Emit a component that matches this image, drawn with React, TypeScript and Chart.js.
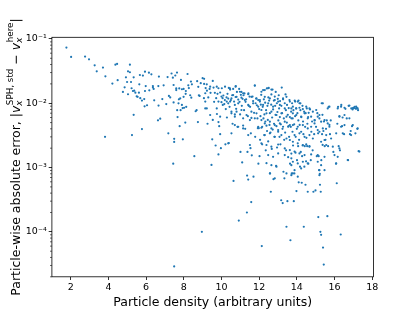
import { useEffect, useRef } from "react";
import { Chart, registerables } from "chart.js";

Chart.register(...registerables);

// ---- axis ticks ----
const xTickValues = [2, 4, 6, 8, 10, 12, 14, 16, 18];
const yMajorTicks = [1e-4, 1e-3, 1e-2, 1e-1];
const yMinorMantissas = [2, 3, 4, 5, 6, 7, 8, 9];
const yMinorDecades = [1e-5, 1e-4, 1e-3, 1e-2];

const xLabel = "Particle density (arbitrary units)";

// ---- data: [particle density, absolute error] ----
const lowDensityPoints: [number, number][] = [
  [1.77, 7.33e-2], [2.02, 5.25e-2], [2.76, 5.31e-2], [2.97, 4.82e-2], [3.27, 3.89e-2], [3.38, 3.14e-2],
  [3.71, 3.58e-2], [3.84, 2.62e-2], [3.82, 3.0e-3], [4.21, 2.02e-2], [4.37, 3.98e-2], [4.46, 4.08e-2],
  [4.49, 2.28e-2], [4.77, 1.5e-2], [4.86, 1.77e-2], [4.93, 2.53e-2], [4.99, 2.14e-2], [5.04, 3.14e-2],
  [5.14, 3.98e-2], [5.14, 3.03e-2], [5.04, 1.38e-2], [5.2, 2.14e-2], [5.23, 1.71e-2], [5.3, 1.55e-2],
  [5.34, 2.53e-2], [5.37, 1.57e-2], [5.43, 1.46e-2], [5.5, 1.28e-2], [5.55, 1.26e-2], [5.62, 1.46e-2],
  [5.64, 1.97e-2], [5.67, 2.75e-2], [5.69, 1.2e-2], [5.78, 1.1e-2], [5.83, 2.69e-2], [5.9, 1.16e-2],
  [5.94, 3.1e-2], [5.98, 1.85e-2], [5.94, 1.55e-2], [5.92, 8.95e-3], [6.05, 9.3e-3], [6.15, 2.99e-2],
  [6.28, 2.82e-2], [6.17, 1.59e-2], [6.36, 1.85e-2], [6.4, 1.67e-2], [6.36, 1.77e-2], [6.43, 1.11e-2],
  [6.65, 1.85e-2], [6.68, 2.6e-2], [6.66, 9.2e-3], [6.63, 5.42e-3], [6.75, 5.75e-3], [5.34, 6.6e-3],
  [5.25, 3.2e-3], [5.78, 3.97e-3],
];

const midDensityPoints: [number, number][] = [
  [6.86, 1.16e-2], [6.93, 1.9e-2], [7.07, 9.7e-3], [7.14, 2.55e-2], [7.18, 3.4e-3], [7.21, 1.3e-2],
  [7.28, 1.23e-2], [7.35, 2.9e-2], [7.42, 2.5e-2], [7.44, 1.15e-3], [7.49, 2.8e-3], [7.49, 2.5e-3],
  [7.49, 2.9e-5], [7.55, 2.7e-2], [7.6, 1.7e-2], [7.6, 1.6e-2], [7.64, 3.0e-2], [7.65, 7.8e-3],
  [7.67, 6.1e-3], [7.74, 1.15e-2], [7.76, 1.7e-2], [7.78, 4.4e-3], [7.83, 7.8e-3], [7.85, 2.3e-2],
  [7.9, 1.65e-2], [7.94, 8.4e-3], [7.95, 2.75e-3], [8.02, 8.5e-3], [8.08, 5.0e-3], [8.1, 1.4e-2],
  [8.11, 1.55e-2], [8.13, 8.8e-3], [8.2, 2.85e-2], [8.24, 1.9e-2], [8.27, 1.72e-2], [8.34, 1.33e-2],
  [8.4, 1.22e-2], [8.56, 1.5e-3], [8.63, 7.5e-3], [8.68, 7.8e-3], [8.71, 2.2e-2], [8.77, 1.8e-2],
  [8.8, 1.33e-2], [8.84, 1.3e-2], [8.75, 5.1e-3], [8.9, 2.05e-2], [8.96, 1.0e-4], [9.0, 2.45e-2],
  [9.08, 2.4e-2], [9.08, 2.0e-2], [9.07, 1.2e-2], [9.14, 1.06e-2], [9.16, 1.72e-2], [9.23, 1.57e-2],
  [9.26, 4.8e-3], [9.3, 1.23e-2], [9.37, 1.67e-2], [9.42, 1.45e-2], [9.47, 1.1e-3], [9.51, 2.75e-3],
  [9.54, 5.5e-3], [9.58, 1.75e-2], [9.61, 1.05e-2], [9.65, 1.45e-2], [9.69, 2.2e-3], [9.72, 1.2e-2],
  [9.76, 6.8e-3], [9.79, 1.4e-2], [9.84, 1.6e-3], [9.84, 5.1e-3], [9.88, 4.4e-3], [9.93, 1.47e-2],
  [9.93, 3.3e-3], [9.97, 2.0e-3], [10.0, 1.27e-2], [10.0, 1.04e-2], [10.06, 1.2e-2], [10.07, 9.4e-3],
  [10.1, 1.32e-2], [10.15, 9.7e-3], [10.18, 1.12e-2], [10.21, 2.3e-3], [10.23, 8.1e-3], [10.27, 1.23e-2],
  [10.29, 6.0e-3], [10.32, 1.4e-2],
  [8.38, 2.17e-2], [9.54, 2.22e-2], [7.46, 1.92e-2], [7.99, 1.67e-2], [8.43, 1.97e-2], [9.22, 1.97e-2],
  [9.4, 1.81e-2], [9.75, 1.81e-2], [9.84, 1.71e-2], [10.02, 1.71e-2], [10.19, 1.81e-2], [7.81, 1.19e-2],
  [7.99, 1.26e-2], [9.14, 1.43e-2], [7.46, 1.03e-2], [7.72, 9.96e-3], [7.9, 9.4e-3], [9.84, 1.06e-2],
  [10.28, 1.06e-2], [9.14, 8.3e-3], [9.22, 8.3e-3], [9.75, 8.3e-3], [9.4, 6.56e-3], [9.93, 6.18e-3],
  [10.46, 1.06e-2],
];

const highDensityPoints: [number, number][] = [
  [10.36, 1.18e-2], [10.39, 2.4e-3], [10.39, 1.73e-2], [10.43, 8.8e-3], [10.46, 1.63e-2], [10.5, 1.12e-2],
  [10.53, 7.4e-3], [10.57, 1.33e-2], [10.59, 4.8e-3], [10.62, 1.67e-2], [10.64, 6.2e-4], [10.67, 1.06e-2],
  [10.71, 6.7e-3], [10.75, 1.25e-2], [10.76, 1.85e-2], [10.78, 8.2e-3], [10.82, 1.5e-2], [10.85, 4.3e-3],
  [10.89, 1.14e-2], [10.92, 1.5e-4], [10.94, 1.67e-2], [10.96, 1.05e-2], [10.99, 6.7e-3], [11.01, 1.75e-3],
  [11.03, 1.35e-2], [11.06, 1.5e-2], [11.08, 9.1e-3], [11.1, 1.2e-3], [11.12, 1.17e-2], [11.15, 4.5e-3],
  [11.17, 1.33e-2], [11.2, 7.8e-3], [11.22, 1.42e-2], [11.26, 4.0e-3], [11.28, 1.05e-2], [11.31, 1.15e-2],
  [11.35, 2.0e-4], [11.36, 7.5e-4], [11.38, 1.75e-3], [11.4, 6.3e-3], [11.42, 6.5e-4], [11.43, 1.42e-2],
  [11.45, 9.1e-3], [11.49, 1.27e-2], [11.52, 8.8e-3], [11.54, 2.0e-3], [11.56, 3.4e-3], [11.58, 2.9e-4],
  [11.59, 5.9e-3], [11.61, 1.55e-3], [11.65, 1.27e-2], [11.68, 1.08e-2], [11.7, 7.2e-4], [11.73, 7.1e-3],
  [11.77, 1.9e-2], [11.79, 3.0e-3], [11.81, 1.0e-2], [11.84, 1.18e-2], [11.88, 9.3e-3], [11.91, 5.8e-3],
  [11.93, 4.1e-3], [11.95, 1.12e-2], [11.96, 1.15e-3], [11.98, 4.1e-3], [12.0, 8.1e-3], [12.02, 1.5e-3],
  [12.04, 1.06e-2], [12.05, 2.7e-3], [12.07, 6.3e-3], [12.09, 9.5e-3], [12.11, 1.35e-2], [12.14, 6.0e-5],
  [12.16, 4.3e-3], [12.16, 2.3e-3], [12.19, 8.8e-3], [12.21, 1.6e-2], [12.23, 5.8e-3], [12.25, 1.15e-2],
  [12.27, 3.2e-3], [12.28, 6.7e-3], [12.3, 1.6e-2], [12.32, 1.02e-2], [12.33, 5.2e-3], [12.35, 1.85e-3],
  [12.37, 7.8e-3], [12.39, 1.17e-3], [12.41, 1.7e-2], [12.42, 3.7e-3], [12.44, 9.1e-3], [12.46, 5.5e-3],
  [12.48, 2.55e-3], [12.49, 1.23e-2], [12.51, 1.73e-2], [12.53, 1.1e-2], [12.55, 4.6e-3], [12.57, 7.0e-3],
  [12.58, 8.1e-4], [12.6, 3.5e-3], [12.62, 4.2e-4], [12.64, 9.5e-3], [12.65, 1.37e-2], [12.67, 1.95e-3],
  [12.69, 6.0e-3], [12.71, 1.63e-2], [12.72, 3.9e-3], [12.74, 8.0e-3], [12.76, 6.6e-4], [12.78, 1.1e-2],
  [12.79, 4.8e-3], [12.81, 3.0e-3], [12.83, 1.27e-2], [12.85, 9.1e-3], [12.87, 6.6e-3], [12.88, 1.5e-2],
  [12.9, 1.06e-3], [12.92, 4.4e-3], [12.94, 1.0e-2], [12.95, 2.05e-3], [12.97, 7.3e-3], [12.99, 1.17e-2],
  [13.01, 3.6e-3], [13.02, 5.4e-3], [13.04, 1.33e-2], [13.06, 8.3e-3], [13.08, 3.0e-3], [13.1, 6.1e-3],
  [13.11, 1.08e-2], [13.13, 2.3e-3], [13.15, 4.7e-3], [13.17, 3.1e-4], [13.18, 9.1e-3], [13.2, 1.75e-2],
  [13.22, 7.0e-3], [13.24, 4.0e-3], [13.25, 2.8e-4], [13.27, 1.15e-2], [13.29, 8.6e-4], [13.31, 5.8e-3],
  [13.33, 2.7e-3], [13.34, 6.8e-4], [13.36, 1.0e-2], [13.38, 3.5e-3], [13.4, 1.37e-2], [13.42, 7.8e-3],
  [13.43, 1.85e-3], [13.45, 1.2e-4], [13.47, 5.0e-3], [13.48, 9.4e-3], [13.5, 3.0e-4], [13.52, 6.6e-3],
  [13.54, 1.45e-3], [13.56, 4.4e-3], [13.57, 8.4e-3], [13.59, 3.0e-3], [13.61, 1.12e-2], [13.63, 6.1e-3],
  [13.64, 1.15e-3], [13.66, 7.4e-5], [13.68, 4.3e-3], [13.7, 7.4e-3], [13.71, 1.65e-3], [13.73, 8.1e-4],
  [13.75, 1.0e-2], [13.77, 3.6e-3], [13.78, 5.8e-3], [13.8, 2.2e-3], [13.82, 7.8e-3], [13.84, 3.0e-4],
  [13.86, 4.7e-3], [13.87, 8.1e-4], [13.89, 1.1e-2], [13.91, 6.3e-3], [13.93, 1.7e-3], [13.94, 3.0e-3],
  [13.96, 8.3e-3], [13.98, 4.3e-4], [14.0, 4.0e-3], [14.01, 1.3e-3], [14.03, 7.0e-3], [14.05, 1.06e-2],
  [14.07, 2.15e-3], [14.08, 5.4e-3], [14.1, 5.9e-4], [14.12, 2.7e-3], [14.14, 1.0e-2], [14.15, 4.6e-3],
  [14.17, 1.03e-3], [14.19, 7.8e-3], [14.21, 1.75e-3], [14.23, 3.6e-3], [14.24, 6.1e-3], [14.26, 5.8e-4],
  [14.28, 1.5e-3], [14.3, 9.1e-3], [14.31, 2.2e-3], [14.33, 5.2e-3], [14.35, 3.3e-3], [14.37, 1.2e-4],
  [14.39, 7.4e-3], [14.4, 1.03e-3], [14.42, 2.15e-3], [14.44, 4.3e-3], [14.46, 5.4e-4], [14.47, 7.0e-3],
  [14.49, 1.25e-3], [14.51, 2.9e-3], [14.53, 8.3e-3], [14.55, 2.15e-3], [14.56, 4.8e-3], [14.58, 4.2e-4],
  [14.6, 6.1e-3], [14.61, 1.15e-3], [14.63, 7.1e-3], [14.67, 2.15e-3], [14.7, 8.0e-3], [14.74, 1.3e-3],
  [14.77, 3.6e-3], [14.81, 5.2e-3], [14.84, 1.85e-3], [14.88, 4.2e-4], [14.92, 3.3e-3], [14.95, 5.4e-3],
  [14.99, 4.4e-4], [15.02, 4.3e-3], [15.06, 1.5e-3], [15.09, 7.0e-3], [15.13, 3.4e-3], [15.14, 1.7e-4],
  [15.16, 1.5e-3], [15.18, 9.1e-4], [15.2, 5.8e-3], [15.22, 8.0e-4], [15.23, 5.4e-4], [15.25, 1.0e-4],
  [15.27, 4.2e-4], [15.29, 9.0e-5], [15.3, 1.3e-3], [15.32, 1.0e-2], [15.34, 3.3e-3], [15.36, 6.6e-3],
  [15.37, 2.25e-3], [15.39, 5.7e-5], [15.41, 3.7e-3], [15.43, 3.1e-5], [15.44, 5.2e-3], [15.48, 2.15e-3],
  [15.52, 2.7e-3], [15.55, 4.0e-3], [15.59, 5.4e-3], [15.62, 1.75e-4], [15.66, 2.15e-3], [15.69, 8.8e-3],
  [15.73, 4.6e-3], [15.76, 3.3e-3], [15.8, 5.4e-3], [15.94, 1.75e-3], [16.08, 1.15e-3], [16.12, 5.7e-4],
  [16.15, 4.8e-3], [16.19, 8.8e-3], [16.22, 2.15e-3], [16.26, 6.3e-3], [16.29, 1.85e-3], [16.33, 9.1e-5],
  [16.36, 9.4e-3], [16.4, 4.4e-3], [16.43, 6.0e-3], [16.51, 3.3e-3], [16.58, 8.2e-3], [16.65, 5.8e-3],
  [16.72, 1.3e-3], [16.75, 9.1e-3], [16.82, 3.3e-3], [16.86, 3.7e-3], [16.89, 8.3e-3], [16.93, 4.4e-3],
  [16.96, 8.0e-3], [17.0, 8.5e-3], [17.04, 8.4e-3], [17.07, 8.8e-3], [17.11, 3.4e-3], [17.14, 8.2e-3],
  [17.18, 8.5e-3], [17.21, 4.0e-3], [17.25, 7.8e-3], [17.28, 1.8e-3],
];

const clusterPointsA: [number, number][] = [
  [10.45, 1.71e-2], [10.75, 1.81e-2], [11.77, 1.87e-2], [12.48, 1.71e-2], [12.65, 1.63e-2], [12.12, 1.51e-2],
  [10.98, 1.51e-2], [11.15, 1.43e-2], [11.42, 1.38e-2], [10.62, 1.34e-2], [10.53, 1.19e-2], [10.8, 1.26e-2],
  [11.06, 1.22e-2], [11.24, 1.12e-2], [11.59, 1.26e-2], [11.86, 1.19e-2], [12.04, 1.12e-2], [12.3, 1.26e-2],
  [12.57, 1.19e-2], [12.83, 1.12e-2], [13.01, 1.06e-2], [13.27, 1.19e-2], [13.45, 1.26e-2], [13.63, 1.06e-2],
  [10.36, 9.96e-3], [10.71, 9.4e-3], [10.89, 9.96e-3], [11.42, 9.4e-3], [11.68, 9.96e-3], [11.95, 8.85e-3],
  [12.21, 9.4e-3], [12.48, 9.96e-3], [12.74, 8.85e-3], [13.1, 9.4e-3], [13.36, 8.3e-3], [13.71, 8.3e-3],
  [10.53, 6.97e-3], [10.8, 7.4e-3], [11.06, 7.85e-3], [11.33, 6.56e-3], [11.59, 7.4e-3], [11.86, 6.97e-3],
  [12.12, 7.85e-3], [12.39, 6.97e-3], [12.65, 7.4e-3], [12.92, 6.56e-3], [13.18, 6.97e-3], [13.45, 6.18e-3],
  [13.71, 5.82e-3], [10.71, 6.18e-3], [11.15, 5.82e-3], [11.51, 5.48e-3], [11.77, 5.82e-3], [12.12, 5.48e-3],
  [12.3, 4.86e-3], [12.57, 5.16e-3], [12.83, 4.58e-3], [13.1, 4.86e-3], [13.36, 5.16e-3], [13.63, 4.58e-3],
  [10.71, 4.58e-3], [10.89, 4.31e-3], [11.15, 4.06e-3], [11.95, 4.31e-3], [12.12, 4.16e-3], [12.39, 4.47e-3],
  [12.65, 4.06e-3], [13.01, 3.83e-3], [13.27, 4.31e-3], [13.54, 4.31e-3], [10.53, 3.4e-3], [11.42, 3.2e-3],
  [12.3, 3.2e-3], [12.57, 3.4e-3], [12.83, 3.0e-3], [13.18, 3.2e-3], [13.45, 2.83e-3], [13.63, 2.68e-3],
  [10.36, 2.38e-3], [11.51, 2.24e-3], [12.12, 2.38e-3], [12.39, 2.24e-3], [12.65, 2.11e-3], [13.01, 2.28e-3],
  [13.36, 1.98e-3], [13.63, 1.87e-3], [12.48, 1.56e-3], [12.74, 1.47e-3], [13.01, 1.66e-3], [13.36, 1.56e-3],
  [13.71, 1.39e-3], [12.65, 1.09e-3], [12.92, 1.03e-3], [13.71, 1.09e-3], [12.57, 8.1e-4], [12.83, 6.8e-4],
  [13.45, 8.1e-4], [13.71, 7.6e-4],
];

const clusterPointsB: [number, number][] = [
  [13.91, 1.06e-2], [14.09, 1.1e-2], [14.19, 9.96e-3], [13.79, 8.85e-3], [13.97, 8.3e-3], [14.14, 8.5e-3],
  [14.32, 8.1e-3], [14.5, 8.85e-3], [14.67, 8.3e-3], [14.85, 7.4e-3], [15.03, 7.85e-3], [15.2, 6.56e-3],
  [15.38, 9.96e-3], [15.64, 8.3e-3], [15.73, 8.85e-3], [16.17, 8.3e-3], [16.35, 8.85e-3], [16.53, 8.5e-3],
  [16.79, 9.2e-3], [16.97, 8.3e-3], [17.15, 8.85e-3], [13.79, 6.97e-3], [13.97, 6.56e-3], [14.23, 6.18e-3],
  [14.41, 6.97e-3], [14.58, 5.82e-3], [14.76, 6.18e-3], [14.94, 5.48e-3], [15.11, 6.18e-3], [15.29, 5.16e-3],
  [15.47, 5.48e-3], [15.64, 4.86e-3], [16.26, 6.18e-3], [16.53, 6.56e-3], [16.79, 5.82e-3], [17.23, 8.3e-3],
  [13.79, 4.58e-3], [14.05, 4.31e-3], [14.32, 4.58e-3], [14.58, 4.06e-3], [14.76, 4.31e-3], [14.94, 4.86e-3],
  [15.11, 3.83e-3], [15.38, 4.06e-3], [15.56, 3.2e-3], [15.73, 4.31e-3], [16.09, 3.4e-3], [16.35, 4.31e-3],
  [16.53, 4.58e-3], [16.97, 4.58e-3], [17.23, 4.06e-3], [13.88, 3.2e-3], [14.14, 3.4e-3], [14.41, 3.0e-3],
  [14.67, 3.2e-3], [14.85, 2.83e-3], [15.2, 3.6e-3], [15.47, 2.68e-3], [15.82, 2.83e-3], [16.44, 3.4e-3],
  [16.88, 3.2e-3], [13.79, 2.52e-3], [14.05, 2.38e-3], [14.32, 2.24e-3], [14.5, 2.29e-3], [14.67, 2.11e-3],
  [15.29, 2.52e-3], [15.56, 2.24e-3], [15.91, 2.11e-3], [16.26, 1.98e-3], [17.32, 1.77e-3], [13.88, 1.77e-3],
  [14.14, 1.66e-3], [14.41, 1.56e-3], [14.76, 1.6e-3], [15.11, 1.56e-3], [15.47, 1.47e-3], [16.0, 1.56e-3],
  [16.17, 1.47e-3], [16.7, 1.31e-3], [13.79, 1.23e-3], [14.05, 1.16e-3], [14.32, 1.23e-3], [14.58, 1.16e-3],
  [15.11, 1.23e-3], [15.29, 1.09e-3], [16.09, 1.16e-3], [13.88, 9.1e-4], [14.23, 9.7e-4], [15.2, 9.1e-4],
  [15.47, 9.1e-4], [13.79, 8.1e-4], [14.05, 7.2e-4], [15.2, 7.6e-4],
];

const allPoints = [
  ...lowDensityPoints,
  ...midDensityPoints,
  ...highDensityPoints,
  ...clusterPointsA,
  ...clusterPointsB,
];

const SUP: Record<string, string> = {
  "-": "\u207B", "0": "\u2070", "1": "\u00B9", "2": "\u00B2", "3": "\u00B3",
  "4": "\u2074", "5": "\u2075", "6": "\u2076", "7": "\u2077", "8": "\u2078", "9": "\u2079",
};
function powerLabel(v: number): string {
  const e = Math.round(Math.log10(v));
  return "10" + String(e).split("").map((c) => SUP[c] ?? c).join("");
}

const FONT = '"DejaVu Sans", sans-serif';

const decorPlugin = {
  id: "decor",
  afterDraw(chart: any) {
    const { ctx, chartArea: a, scales } = chart;
    const ys = scales.y;
    ctx.save();
    // minor ticks on the log axis
    ctx.strokeStyle = "#000";
    ctx.lineWidth = 0.6;
    for (const d of yMinorDecades) {
      for (const m of yMinorMantissas) {
        const v = m * d;
        if (v < ys.min || v > ys.max) continue;
        const py = ys.getPixelForValue(v);
        ctx.beginPath();
        ctx.moveTo(a.left - 1.9, py);
        ctx.lineTo(a.left, py);
        ctx.stroke();
      }
    }
    // frame (spines)
    ctx.lineWidth = 0.8;
    ctx.strokeStyle = "#000";
    ctx.strokeRect(a.left, a.top, a.right - a.left, a.bottom - a.top);

    // y-axis title with sub/superscripts
    const fs = 12.5;
    const ss = fs * 0.7;
    const normal = `${fs}px ${FONT}`;
    const italic = `oblique ${fs}px ${FONT}`;
    const small = `${ss}px ${FONT}`;
    const smallItalic = `oblique ${ss}px ${FONT}`;
    type Seg = { t?: string; f?: string; sub?: string; sup?: string };
    const segs: Seg[] = [
      { t: "Particle-wise absolute error, |", f: normal },
      { t: "v", f: italic },
      { sub: "x", sup: "SPH, std" },
      { t: " \u2212 ", f: normal },
      { t: "v", f: italic },
      { sub: "x", sup: "here" },
      { t: "|", f: normal },
    ];
    const widthOf = (s: Seg) => {
      if (s.t) {
        ctx.font = s.f;
        return ctx.measureText(s.t).width;
      }
      ctx.font = smallItalic;
      const w1 = ctx.measureText(s.sub).width;
      ctx.font = small;
      const w2 = ctx.measureText(s.sup).width;
      return Math.max(w1, w2) + 0.5;
    };
    const total = segs.reduce((acc, s) => acc + widthOf(s), 0);
    const centerY = (a.top + a.bottom) / 2;
    const baseX = 20.3;
    ctx.translate(baseX, centerY);
    ctx.rotate(-Math.PI / 2);
    ctx.fillStyle = "#000";
    ctx.textBaseline = "alphabetic";
    ctx.textAlign = "left";
    let u = -total / 2;
    for (const s of segs) {
      const w = widthOf(s);
      if (s.t) {
        ctx.font = s.f;
        ctx.fillText(s.t, u, 0);
      } else {
        ctx.font = smallItalic;
        ctx.fillText(s.sub, u, fs * 0.16);
        ctx.font = small;
        ctx.fillText(s.sup, u + 0.5, -fs * 0.62);
      }
      u += w;
    }
    ctx.restore();
  },
};

export default function App() {
  const canvasRef = useRef<HTMLCanvasElement | null>(null);

  useEffect(() => {
    document.body.style.margin = "0";
    const canvas = canvasRef.current;
    if (!canvas) return;
    const chart = new Chart(canvas, {
      type: "scatter",
      data: {
        datasets: [
          {
            data: allPoints.map(([x, y]) => ({ x, y })),
            backgroundColor: "#1f77b4",
            borderColor: "#1f77b4",
            borderWidth: 0,
            pointRadius: 1.1,
            pointHoverRadius: 1.1,
          },
        ],
      },
      options: {
        responsive: false,
        animation: false,
        events: [],
        layout: { padding: { left: 0, top: 37.3, right: 41.5, bottom: 0 } },
        plugins: {
          legend: { display: false },
          tooltip: { enabled: false },
          title: { display: false },
        },
        scales: {
          x: {
            type: "linear",
            position: "bottom",
            min: 1.0,
            max: 18.07,
            afterBuildTicks: (scale: any) => {
              scale.ticks = xTickValues.map((v) => ({ value: v }));
            },
            afterFit: (scale: any) => {
              scale.height = 311 - 276.8;
            },
            grid: {
              display: true,
              drawOnChartArea: false,
              drawTicks: true,
              tickLength: 3.2,
              tickColor: "#000",
              tickWidth: 0.8,
            },
            border: { display: false },
            ticks: {
              autoSkip: false,
              maxRotation: 0,
              padding: 2,
              color: "#000",
              font: { family: FONT, size: 9.5 },
              callback: (v: any) => String(v),
            },
            title: {
              display: true,
              text: xLabel,
              color: "#000",
              font: { family: FONT, size: 12.5 },
              padding: { top: 0, bottom: 1 },
            },
          },
          y: {
            type: "logarithmic",
            position: "left",
            min: 2.0e-5,
            max: 0.106,
            afterBuildTicks: (scale: any) => {
              scale.ticks = yMajorTicks.map((v) => ({ value: v }));
            },
            afterFit: (scale: any) => {
              scale.width = 51.9;
            },
            grid: {
              display: true,
              drawOnChartArea: false,
              drawTicks: true,
              tickLength: 3.2,
              tickColor: "#000",
              tickWidth: 0.8,
            },
            border: { display: false },
            ticks: {
              autoSkip: false,
              padding: 2,
              color: "#000",
              font: { family: FONT, size: 9.5 },
              callback: (v: any) => powerLabel(Number(v)),
            },
          },
        },
      },
      plugins: [decorPlugin],
    } as any);
    return () => chart.destroy();
  }, []);

  return (
    <div style={{ width: 415, height: 311 }}>
      <canvas ref={canvasRef} width={415} height={311} style={{ display: "block" }} />
    </div>
  );
}
